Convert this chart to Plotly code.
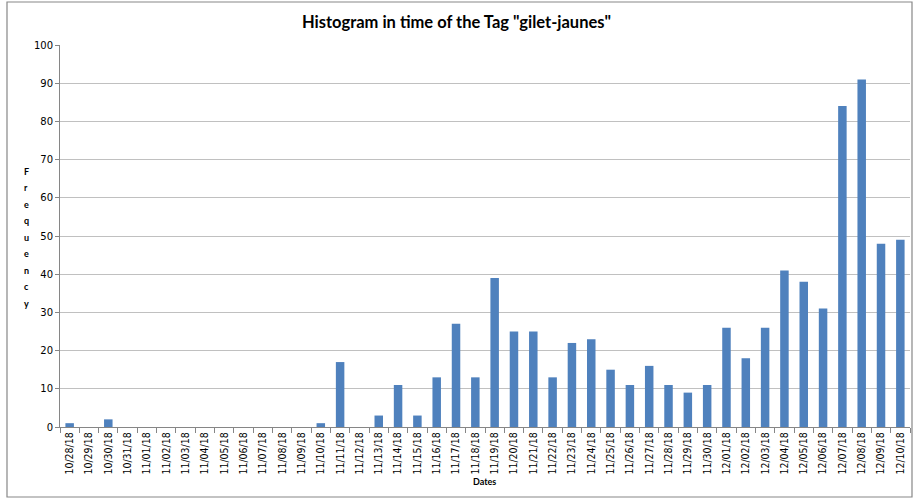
import plotly.graph_objects as go

dates = ["10/28/18","10/29/18","10/30/18","10/31/18","11/01/18","11/02/18","11/03/18","11/04/18",
         "11/05/18","11/06/18","11/07/18","11/08/18","11/09/18","11/10/18","11/11/18","11/12/18",
         "11/13/18","11/14/18","11/15/18","11/16/18","11/17/18","11/18/18","11/19/18","11/20/18",
         "11/21/18","11/22/18","11/23/18","11/24/18","11/25/18","11/26/18","11/27/18","11/28/18",
         "11/29/18","11/30/18","12/01/18","12/02/18","12/03/18","12/04/18","12/05/18","12/06/18",
         "12/07/18","12/08/18","12/09/18","12/10/18"]
frequency = [1,0,2,0,0,0,0,0,
             0,0,0,0,0,1,17,0,
             3,11,3,13,27,13,39,25,
             25,13,22,23,15,11,16,11,
             9,11,26,18,26,41,38,31,
             84,91,48,49]

W, H = 913, 500
ml, mr, mt, mb = 60, 3, 45, 73

fig = go.Figure(go.Bar(
    x=dates, y=frequency,
    marker=dict(color="#4F81BD", line=dict(width=0)),
))

fig.update_layout(
    width=W, height=H,
    margin=dict(l=ml, r=mr, t=mt, b=mb, autoexpand=False),
    paper_bgcolor="white", plot_bgcolor="white",
    bargap=0.56,
    showlegend=False,
    font=dict(family="Lato, DejaVu Sans, sans-serif", color="#404040"),
    title=dict(text='Histogram in time of the Tag "gilet-jaunes"',
               x=0.5, xanchor="center", y=1 - 22 / H, yanchor="middle",
               font=dict(size=16.5, family="Lato, sans-serif", color="#000000", weight="bold")),
    xaxis=dict(
        type="category", tickangle=-90,
        tickfont=dict(size=10.5, family="DejaVu Sans Condensed, Liberation Sans, sans-serif", color="#000000"),
        showgrid=False, showline=True, linecolor="#868686", linewidth=1,
        ticks="outside", ticklen=5, tickcolor="#868686", tickson="boundaries",
        range=[-0.5, len(dates) - 0.5], automargin=False,
    ),
    yaxis=dict(
        range=[0, 100], dtick=10,
        tickfont=dict(size=10, family="DejaVu Sans, sans-serif", color="#000000"),
        showgrid=True, gridcolor="#C0C0C0", gridwidth=1,
        showline=True, linecolor="#868686", linewidth=1,
        ticks="outside", ticklen=4, tickcolor="#868686",
        zeroline=False, automargin=False,
    ),
)

# Outer chart border
pw = W - ml - mr
ph = H - mt - mb
fig.add_shape(type="rect", xref="paper", yref="paper",
              x0=-(ml - 7) / pw, x1=1 + (mr - 1) / pw,
              y0=-(mb - 3) / ph, y1=1 + (mt - 2) / ph,
              line=dict(color="#878787", width=1.2), fillcolor="rgba(0,0,0,0)", layer="below")

# Stacked vertical y-axis title
label = "Frequency"
y_center_px = 237
spacing = 16.5
n = len(label)
for i, ch in enumerate(label):
    ypx = y_center_px - (n - 1) / 2 * spacing + i * spacing
    fig.add_annotation(text=ch, xref="paper", yref="paper",
                       x=-(ml - 26) / pw, y=1 - (ypx - mt) / ph,
                       showarrow=False, xanchor="center", yanchor="middle",
                       font=dict(size=9, family="Lato, sans-serif", color="#000000", weight="bold"))

# X axis title
fig.add_annotation(text="Dates", xref="paper", yref="paper",
                   x=(484 - ml) / pw, y=-(481 - mt - ph) / ph,
                   showarrow=False, xanchor="center", yanchor="middle",
                   font=dict(size=9, family="Lato, sans-serif", color="#000000", weight="bold"))

fig.write_html("out.html", config={"displayModeBar": False},
               post_script="document.body.style.margin='0';document.body.style.overflow='hidden';")
